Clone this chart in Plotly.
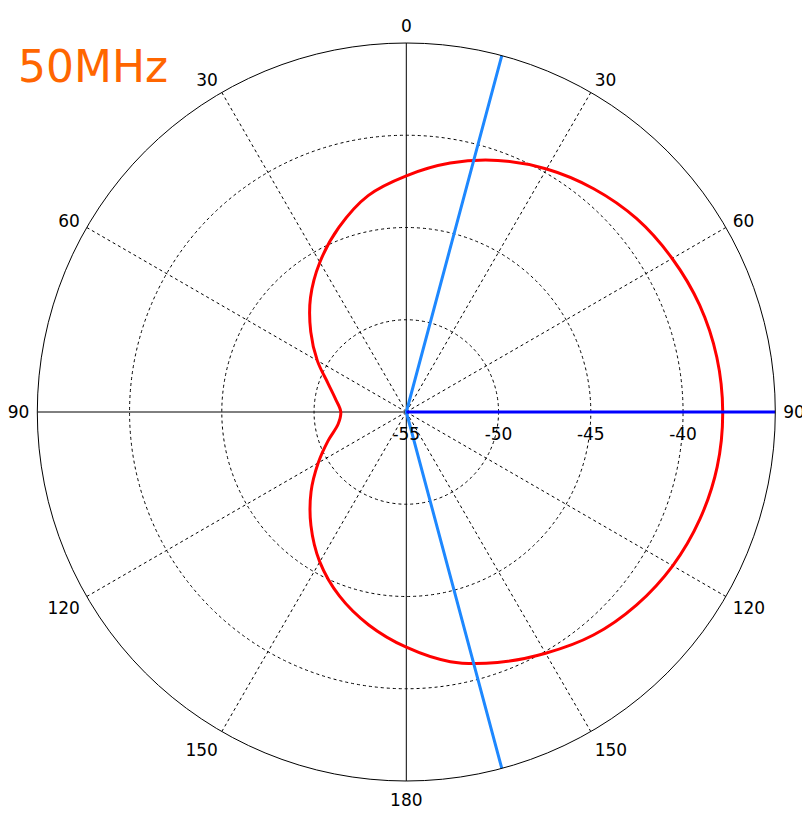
import plotly.graph_objects as go

# ---- data ----
theta_deg = [0, 10, 20, 30, 40, 50, 60, 70, 80, 90,
             100, 110, 120, 130, 140, 150, 160, 170, 180,
             190, 200, 210, 220, 230, 240, 250, 260, 270, 280,
             290, 300, 310, 320, 330, 340, 350, 360]
gain_db = [-42.2, -41.3, -40.49, -39.79, -39.2, -38.7, -38.36, -38.08, -37.91, -37.85,
           -37.89, -38.06, -38.33, -38.72, -39.22, -39.9, -40.55, -41.26, -42.25,
           -43.28, -44.39, -45.62, -46.96, -48.26, -49.49, -50.5, -51.25, -51.45, -51.12,
           -50.49, -49.43, -48.24, -46.92, -45.63, -44.34, -43.09, -42.2]

beam_theta = [15, 15, 165]          # beamwidth markers
main_theta = [90, 90]               # main direction marker
r_min, r_max = -55, -35
radial_ticks = [-55, -50, -45, -40]
radial_text = ["-55", "-50", "-45", "-40"]
angle_ticks = list(range(0, 360, 30))
angle_text = ["0", "30", "60", "90", "120", "150", "180", "150", "120", "90", "60", "30"]
spoke_angles = [30, 60, 120, 150, 210, 240, 300, 330]
title_text = "50MHz"

FONT = "DejaVu Sans"
W, H = 802, 815          # page body has an 8px margin
CX, CY, RAD = 398.3, 404.0, 369.0

fig = go.Figure()

# dashed spokes (non-cardinal directions)
for a in spoke_angles:
    fig.add_trace(go.Scatterpolar(r=[r_min, r_max], theta=[a, a], mode="lines",
                                  line=dict(color="black", width=1, dash="3px,3px"),
                                  hoverinfo="skip", showlegend=False))

# solid cross axes
fig.add_trace(go.Scatterpolar(r=[r_max, r_min, r_max], theta=[0, 0, 180], mode="lines",
                              line=dict(color="black", width=1), hoverinfo="skip", showlegend=False))
fig.add_trace(go.Scatterpolar(r=[r_max, r_min, r_max], theta=[90, 90, 270], mode="lines",
                              line=dict(color="black", width=1), hoverinfo="skip", showlegend=False))

# pattern
fig.add_trace(go.Scatterpolar(r=gain_db, theta=theta_deg, mode="lines",
                              line=dict(color="#FF0000", width=3, shape="spline", smoothing=1),
                              showlegend=False))

# beam lines
fig.add_trace(go.Scatterpolar(r=[r_max, r_min, r_max], theta=beam_theta, mode="lines",
                              line=dict(color="#1E88FF", width=3), showlegend=False))
fig.add_trace(go.Scatterpolar(r=[r_min, r_max], theta=main_theta, mode="lines",
                              line=dict(color="#0000FF", width=3), showlegend=False))

fig.update_layout(
    width=W, height=H,
    margin=dict(l=0, r=0, t=0, b=0),
    paper_bgcolor="white",
    showlegend=False,
    font=dict(family=FONT, size=17, color="black"),
    polar=dict(
        domain=dict(x=[(CX - RAD) / W, (CX + RAD) / W],
                    y=[(H - CY - RAD) / H, (H - CY + RAD) / H]),
        bgcolor="white",
        angularaxis=dict(
            rotation=90, direction="clockwise",
            tickmode="array", tickvals=angle_ticks, ticktext=angle_text,
            showline=True, linecolor="black", linewidth=1,
            showgrid=False,
            ticks="outside", ticklen=4, tickcolor="rgba(0,0,0,0)",
            tickfont=dict(family=FONT, size=17, color="black"),
        ),
        radialaxis=dict(
            range=[r_min, r_max], tickmode="array", tickvals=radial_ticks, ticktext=radial_text,
            angle=0, showline=False,
            showgrid=True, gridcolor="black", gridwidth=1, griddash="3px,3px",
            ticks="outside", ticklen=7, tickcolor="rgba(0,0,0,0)",
            tickfont=dict(family=FONT, size=17, color="black"),
        ),
    ),
    annotations=[dict(text=title_text, x=8 / W, y=(H - 58) / H, xref="paper", yref="paper",
                      xanchor="left", yanchor="middle", showarrow=False,
                      font=dict(family=FONT, size=44, color="#FF6600"))],
)

fig.write_html("out.html")
